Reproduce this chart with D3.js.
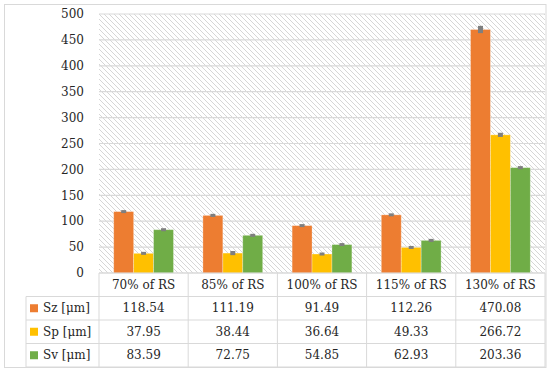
<!DOCTYPE html>
<html lang="en">
<head>
    <meta charset="UTF-8">
    <title>Sz Sp Sv by RS</title>
    <script src="https://d3js.org/d3.v7.min.js"></script>
    <style>
        body { margin: 0; background: #fff; }
        text { font-family: "DejaVu Serif", serif; font-size: 12px; fill: #262626; }
    </style>
</head>
<body>
    <div id="chart"></div>

    <script>
        // data
        const categories = ["70% of RS", "85% of RS", "100% of RS", "115% of RS", "130% of RS"];
        const seriesNames = ["Sz [μm]", "Sp [μm]", "Sv [μm]"];
        const sz = [118.54, 111.19, 91.49, 112.26, 470.08];
        const sp = [37.95, 38.44, 36.64, 49.33, 266.72];
        const sv = [83.59, 72.75, 54.85, 62.93, 203.36];
        const szErr = [2, 3, 2, 2, 7];
        const spErr = [2, 4, 2, 2, 4];
        const svErr = [2, 2, 2, 2, 3];
        const yTicks = [0, 50, 100, 150, 200, 250, 300, 350, 400, 450, 500];
        const colors = ["#ED7D31", "#FFC000", "#70AD47"];

        const values = [sz, sp, sv];
        const errors = [szErr, spErr, svErr];

        const width = 550, height = 372;
        const plotLeft = 99, plotRight = 545, plotTop = 14, plotBottom = 273;
        const tableLeft = 26, rowH = 23.5;

        const svg = d3.select("#chart")
            .append("svg")
            .attr("width", width)
            .attr("height", height);

        // hatch pattern for the plot area
        const pat = svg.append("defs").append("pattern")
            .attr("id", "hatch")
            .attr("patternUnits", "userSpaceOnUse")
            .attr("width", 5)
            .attr("height", 5);
        pat.append("rect").attr("width", 5).attr("height", 5).attr("fill", "#fff");
        pat.append("path")
            .attr("d", "M0,0 L5,5 M-1,4 L1,6 M4,-1 L6,1")
            .attr("stroke", "#d6d6d6")
            .attr("stroke-width", 1);

        // outer border
        svg.append("rect")
            .attr("x", 4.5).attr("y", 4.5)
            .attr("width", 541.5).attr("height", 363)
            .attr("fill", "none")
            .attr("stroke", "#d9d9d9");

        const x0 = d3.scaleBand()
            .domain(categories)
            .range([plotLeft, plotRight])
            .paddingInner(0.33)
            .paddingOuter(0.165);

        const x1 = d3.scaleBand()
            .domain(seriesNames)
            .range([0, x0.bandwidth()]);

        const y = d3.scaleLinear()
            .domain([0, 500])
            .range([plotBottom, plotTop]);

        // plot background
        svg.append("rect")
            .attr("x", plotLeft).attr("y", plotTop)
            .attr("width", plotRight - plotLeft).attr("height", plotBottom - plotTop)
            .attr("fill", "url(#hatch)");

        // gridlines
        svg.append("g")
            .selectAll("line")
            .data(yTicks)
            .join("line")
            .attr("x1", plotLeft).attr("x2", plotRight)
            .attr("y1", d => y(d)).attr("y2", d => y(d))
            .attr("stroke", "#d9d9d9")
            .attr("stroke-width", 1.2);

        // y axis labels
        svg.append("g")
            .selectAll("text")
            .data(yTicks)
            .join("text")
            .attr("x", 84)
            .attr("y", d => y(d))
            .attr("dy", "0.35em")
            .attr("text-anchor", "end")
            .text(d => d);

        // bars
        const groups = svg.append("g")
            .selectAll("g")
            .data(categories)
            .join("g")
            .attr("transform", d => `translate(${x0(d)},0)`);

        groups.selectAll("rect")
            .data((d, i) => seriesNames.map((s, j) => ({ s, j, v: values[j][i], e: errors[j][i] })))
            .join("rect")
            .attr("x", d => x1(d.s))
            .attr("y", d => y(d.v))
            .attr("width", x1.bandwidth())
            .attr("height", d => y(0) - y(d.v))
            .attr("fill", d => colors[d.j])
            .attr("stroke", "#fff")
            .attr("stroke-opacity", 0.35)
            .attr("stroke-width", 0.8);

        // error bars
        groups.selectAll("rect.err")
            .data((d, i) => seriesNames.map((s, j) => ({ s, j, v: values[j][i], e: errors[j][i] })))
            .join("rect")
            .attr("class", "err")
            .attr("x", d => x1(d.s) + x1.bandwidth() / 2 - 2.5)
            .attr("y", d => Math.min(y(d.v + d.e), y(d.v) - 1.5))
            .attr("width", 5)
            .attr("height", d => Math.max(y(d.v - d.e) - y(d.v + d.e), 3))
            .attr("fill", "#7f7f7f");

        // data table
        const xt = d3.scaleBand().domain(categories).range([plotLeft, plotRight]);
        const table = svg.append("g");
        const lineColor = "#d9d9d9";

        // horizontal lines
        table.append("line")
            .attr("x1", plotLeft).attr("x2", plotRight)
            .attr("y1", plotBottom).attr("y2", plotBottom)
            .attr("stroke", lineColor);
        for (let r = 1; r <= 4; r++) {
            const yy = plotBottom + r * rowH;
            table.append("line")
                .attr("x1", tableLeft).attr("x2", plotRight)
                .attr("y1", yy).attr("y2", yy)
                .attr("stroke", lineColor);
        }
        // vertical lines
        table.append("line")
            .attr("x1", tableLeft).attr("x2", tableLeft)
            .attr("y1", plotBottom + rowH).attr("y2", plotBottom + 4 * rowH)
            .attr("stroke", lineColor);
        categories.forEach(c => {
            table.append("line")
                .attr("x1", xt(c)).attr("x2", xt(c))
                .attr("y1", plotBottom).attr("y2", plotBottom + 4 * rowH)
                .attr("stroke", lineColor);
        });
        table.append("line")
            .attr("x1", plotRight).attr("x2", plotRight)
            .attr("y1", plotBottom).attr("y2", plotBottom + 4 * rowH)
            .attr("stroke", lineColor);

        // header text
        table.selectAll("text.head")
            .data(categories)
            .join("text")
            .attr("class", "head")
            .attr("x", d => xt(d) + xt.bandwidth() / 2)
            .attr("y", plotBottom + rowH / 2)
            .attr("dy", "0.35em")
            .attr("text-anchor", "middle")
            .text(d => d);

        // rows
        seriesNames.forEach((s, j) => {
            const cy = plotBottom + (j + 1.5) * rowH;
            table.append("rect")
                .attr("x", 30).attr("y", cy - 4)
                .attr("width", 8).attr("height", 8)
                .attr("fill", colors[j]);
            table.append("text")
                .attr("x", 43).attr("y", cy)
                .attr("dy", "0.35em")
                .text(s);
            table.selectAll(null)
                .data(categories)
                .join("text")
                .attr("x", d => xt(d) + xt.bandwidth() / 2)
                .attr("y", cy)
                .attr("dy", "0.35em")
                .attr("text-anchor", "middle")
                .text((d, i) => values[j][i].toFixed(2));
        });
    </script>
</body>
</html>
